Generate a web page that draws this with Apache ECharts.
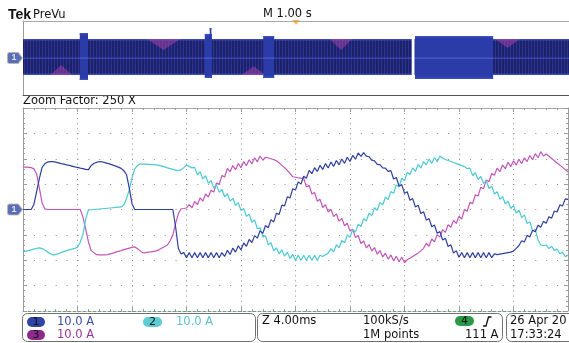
<!DOCTYPE html>
<html>
<head>
<meta charset="utf-8">
<style>
  html, body { margin: 0; padding: 0; background: #fff; }
  #chart { width: 569px; height: 343px; }
</style>
<script src="https://cdn.jsdelivr.net/npm/echarts@6/dist/echarts.min.js"></script>
</head>
<body>
<div id="chart"></div>
<script>
// zoomed record, one value every 0.2 ms, amps (10 A/div, 4 ms/div)
const sampleMs = 0.2
const ch1 = [
  0, 0, 0, 0, 2, 7, 12.2, 16.6, 18, 18.7,
  18.9, 18.9, 18.7, 18.4, 18.1, 17.9, 17.6, 17.4, 17.1, 16.8,
  16.6, 16.3, 16.1, 15.8, 15.7, 17.3, 18.1, 18.6, 18.9, 18.8,
  18.5, 18.2, 17.9, 17.5, 17.1, 16.7, 16.2, 15.3, 13.7, 8.4,
  2.3, 0, 0, 0, 0, 0, 0, 0, 0, 0,
  0, 0, 0, 0, 0, 0, -6.8, -15.3, -17.5, -17,
  -19, -17, -19, -17, -19, -17, -19, -17, -19, -17,
  -19, -17, -19, -17, -18.5, -16.1, -17.7, -15.2, -16.8, -14.3,
  -15.9, -13.2, -14.5, -11.8, -13.0, -10.3, -11.3, -8.4, -9.4, -6.3,
  -7.2, -4.0, -4.9, -1.5, -1.9, 1.7, 1.4, 5.0, 4.6, 8.2,
  7.7, 10.9, 10.0, 13.1, 12.3, 15.4, 14.1, 16.5, 15.0, 17.4,
  15.8, 18.1, 16.4, 18.7, 17.0, 19.3, 17.6, 19.9, 18.2, 20.6,
  18.9, 21.3, 19.8, 22.3, 20.9, 22.4, 21.0, 20.8, 19.4, 19.2,
  17.8, 17.7, 16.4, 16.3, 15.0, 15.3, 12.0, 12.6, 9.2, 9.8,
  6.4, 7.0, 3.6, 4.3, 1.0, 1.7, -1.6, -0.9, -4.2, -3.5,
  -6.8, -6.1, -9.4, -8.7, -12.0, -11.3, -14.6, -13.9, -17.2, -16.2,
  -18.8, -17, -19, -17, -19, -17, -19, -17, -19, -17,
  -19, -17, -19, -17.5, -17.8, -17.6, -17.4, -17.2, -17.0, -16.8,
  -16.4, -15.3, -14.2, -12.3, -12.8, -10.2, -10.8, -8.2, -8.8, -6.2,
  -7.0, -4.6, -5.4, -2.9, -3.4, -0.6, -1.0, 1.8, 1.4, 4.2,
  4.0
]
const ch2 = [
  -16.7, -16.4, -16.2, -15.9, -15.6, -15.3, -15.1, -15.4, -16.0, -16.7,
  -17.4, -17.9, -17.7, -17.4, -17.0, -16.6, -16.2, -15.9, -15.6, -15.3,
  -14.9, -12.9, -9.9, -3.8, -0.2, -0.1, 0, 0.1, 0.2, 0.3,
  0.4, 0.5, 0.6, 0.7, 0.8, 0.9, 1.0, 1.8, 4.3, 7.8,
  12.4, 16.0, 17.3, 18.0, 17.9, 17.9, 17.8, 17.7, 17.7, 17.6,
  17.4, 17.1, 16.8, 16.4, 16.1, 15.8, 15.5, 15.3, 15.6, 16.5,
  17.5, 17.0, 16.4, 16.6, 13.7, 14.9, 12.1, 13.3, 10.3, 11.4,
  8.5, 9.7, 6.8, 7.9, 5.0, 6.2, 3.3, 4.4, 1.6, 2.7,
  -0.4, 0.4, -2.7, -1.9, -5.0, -4.1, -7.6, -7.2, -10.8, -10.4,
  -13.9, -13.1, -16.3, -15.1, -17.5, -15.9, -18.4, -16.8, -19.3, -17.7,
  -20, -18, -20, -18, -20, -18, -20, -18, -20, -18,
  -18.5, -17.8, -17.2, -15.4, -16.7, -13.9, -15.1, -12.2, -13.1, -10.0,
  -11.0, -7.9, -8.9, -5.8, -6.7, -3.6, -4.5, -1.5, -2.4, 0.7,
  -0.3, 2.8, 1.8, 4.9, 3.9, 7.1, 6.4, 9.7, 9.0, 12.3,
  11.4, 14.6, 13.8, 16.4, 15.0, 17.7, 16.3, 18.9, 17.6, 19.9,
  18.2, 20.5, 18.8, 21.1, 20.2, 19.7, 19.3, 18.9, 18.5, 18.1,
  17.7, 17.3, 16.9, 16.1, 16.3, 13.4, 14.5, 11.8, 13.0, 10.3,
  11.4, 8.3, 9.2, 6.1, 7.0, 4.0, 5.1, 2.2, 3.3, 0.4,
  1.5, -1.4, -0.3, -3.2, -2.1, -5.5, -4.9, -8.4, -7.9, -12.0,
  -14.0, -14.3, -14.0, -15.4, -14.5, -16.2, -15.6, -17.4, -16.8, -18.6,
  -18.0
]
const ch3 = [
  16.8, 16.7, 16.6, 16.5, 16.0, 14.0, 8.5, 2.6, 0.3, 0,
  0, 0, 0, 0, 0, 0, 0, 0, 0, 0,
  0, 0, -2.9, -7.6, -12.7, -16.2, -17.0, -17.8, -17.9, -17.9,
  -17.9, -17.8, -17.5, -17.2, -16.8, -16.5, -16.2, -15.8, -15.5, -15.2,
  -14.9, -14.7, -15.5, -16.3, -17.1, -17.0, -16.8, -16.7, -16.5, -16.3,
  -15.8, -15.2, -14.6, -14.0, -12.3, -10.0, -5.5, -1.7, 0.3, 0.4,
  0.6, 1.9, 0.6, 3.2, 1.9, 4.6, 3.3, 6.1, 4.9, 7.6,
  6.9, 10.4, 9.9, 13.4, 12.8, 16.2, 14.9, 17.3, 15.7, 18.1,
  16.5, 18.9, 17.3, 19.6, 18.0, 20.4, 18.8, 21.1, 19.4, 20.6,
  20.3, 20.0, 19.6, 19.2, 18.3, 17.4, 16.5, 15.4, 14.2, 12.9,
  12.7, 12.5, 12.4, 12.3, 8.9, 9.5, 6.1, 6.7, 3.3, 4.0,
  0.8, 1.9, -1.0, 0.1, -2.8, -1.7, -4.6, -3.5, -6.4, -5.4,
  -8.5, -7.8, -11.0, -10.2, -13.4, -12.4, -15.1, -13.8, -16.4, -15.0,
  -17.6, -16.2, -18.7, -17.2, -19.6, -17.9, -20.2, -18.4, -20.6, -18.8,
  -20.9, -19.8, -19.2, -18.5, -17.8, -17.1, -16.3, -15.3, -13.3, -14.5,
  -11.6, -12.7, -9.9, -10.9, -7.9, -9.0, -6.0, -7.0, -4.3, -5.5,
  -2.6, -3.8, 0.0, -0.7, 2.8, 2.3, 5.8, 5.3, 8.8, 8.2,
  11.6, 10.9, 14.2, 13.5, 16.3, 14.9, 17.5, 16.1, 18.6, 16.9,
  19.2, 17.5, 19.8, 18.1, 20.4, 18.9, 21.3, 19.6, 22.0, 20.4,
  22.8, 21.1, 21.9, 21.0, 20.1, 19.2, 18.3, 17.5, 16.6, 15.7,
  14.8
]

// PreVu (1 s/div) envelope pieces: [start s, end s, high A, low A]
const prevuBand = [[0, 10, 20.5, -18.4]]
const prevuTints = [[2.27, 2.88, 20.5, 8.6], [5.62, 6.03, 20.5, 8.6], [8.65, 9.1, 20.5, 10.8],
  [0.5, 0.9, -18.4, -7.6], [4.0, 4.45, -18.4, -9]]
const prevuBursts = [[1.04, 1.19, 27, -23.8], [3.33, 3.46, 26, -21.6], [3.42, 3.45, 32.4, -21.6],
  [4.40, 4.60, 23.8, -21.6], [7.18, 8.61, 23.8, -22.7]]
const prevuGaps = [[7.12, 7.17, 21, -19]]
const triggerPos = [[5, 40]]
const groundPos = [[0, 0]]

const chart = echarts.init(document.getElementById('chart'))

// vertical stripes of the PreVu band
const stripe = document.createElement('canvas')
stripe.width = 3
stripe.height = 4
const sc = stripe.getContext('2d')
sc.fillStyle = '#1d2169'
sc.fillRect(0, 0, 3, 4)
sc.fillStyle = '#2c3592'
sc.fillRect(0, 0, 1, 4)

function rectItem (fill, edge, center) {
  return function (params, api) {
    const a = api.coord([api.value(0), api.value(2)])
    const b = api.coord([api.value(1), api.value(3)])
    const z = api.coord([api.value(0), 0])[1]
    const w = b[0] - a[0]
    const kids = [{ type: 'rect', shape: { x: a[0], y: a[1], width: w, height: b[1] - a[1] }, style: { fill: fill } }]
    if (edge) {
      kids.push({ type: 'rect', shape: { x: a[0], y: a[1], width: w, height: 1.5 }, style: { fill: edge } })
      kids.push({ type: 'rect', shape: { x: a[0], y: b[1] - 1.5, width: w, height: 1.5 }, style: { fill: edge } })
    }
    if (center) {
      kids.push({ type: 'rect', shape: { x: a[0], y: z - 0.6, width: w, height: 1.3 }, style: { fill: center } })
    }
    return { type: 'group', children: kids }
  }
}

function tintItem (params, api) {
  const a = api.coord([api.value(0), api.value(2)])
  const b = api.coord([api.value(1), api.value(3)])
  return {
    type: 'polygon',
    shape: { points: [[a[0], a[1]], [b[0], a[1]], [(a[0] + b[0]) / 2, b[1]]] },
    style: { fill: 'rgba(190, 70, 180, 0.45)' }
  }
}

const toPoints = arr => arr.map((v, i) => [+(i * sampleMs).toFixed(1), v])

const hidden = { show: false }
const frame = c => ({ show: true, onZero: false, lineStyle: { color: c, width: 1 } })
const tick = { show: true, inside: true, length: 4, lineStyle: { color: '#9a9a9a' } }
const minor = { show: true, splitNumber: 5, length: 2, lineStyle: { color: '#9a9a9a' } }

const font = '11.5px "DejaVu Sans"'
const text = (x, y, s, fill, f) => ({
  type: 'text', x: x, y: y, silent: true,
  style: { text: s, fill: fill || '#111', font: f || font, verticalAlign: 'middle' }
})
const oval = (x, y, w, fill, s) => ({
  type: 'group', children: [
    { type: 'rect', shape: { x: x, y: y, width: w, height: 10, r: 5 }, style: { fill: fill } },
    { type: 'text', x: x + w / 2, y: y + 5.5, style: { text: s, fill: '#111', font: '11px "DejaVu Sans"', align: 'center', verticalAlign: 'middle' } }
  ]
})
const box = (x, w) => ({
  type: 'rect', shape: { x: x, y: 313.5, width: w, height: 28, r: 5 },
  style: { fill: 'none', stroke: '#707070', lineWidth: 1 }
})

const tagSymbol = 'path://M0,2 Q0,0 2,0 L10,0 L14,5 L10,10 L2,10 Q0,10 0,8 Z'
const tag = (xi, yi) => ({
  type: 'scatter', xAxisIndex: xi, yAxisIndex: yi, data: groundPos, z: 10,
  symbol: tagSymbol, symbolSize: [15, 11], symbolOffset: [-8, 0],
  itemStyle: { color: '#3148a6', borderColor: '#b8bca0', borderWidth: 1 },
  label: { show: true, position: 'inside', formatter: '1', color: '#fff', fontSize: 9, fontWeight: 'bold', offset: [-1, 0] }
})

chart.setOption({
  animation: false,
  backgroundColor: '#fff',
  grid: [
    { left: 23, top: 21, width: 546, height: 74 },
    { left: 23, top: 108, width: 545, height: 203 }
  ],
  xAxis: [
    { gridIndex: 0, type: 'value', min: 0, max: 10, position: 'bottom', axisLine: frame('#555'), axisTick: hidden, axisLabel: hidden, splitLine: hidden },
    { gridIndex: 0, type: 'value', min: 0, max: 10, position: 'top', axisLine: frame('#a8a8a8'), axisTick: hidden, axisLabel: hidden, splitLine: hidden },
    {
      gridIndex: 1, type: 'value', min: 0, max: 40, interval: 4, position: 'bottom',
      axisLine: { show: true, onZero: false, lineStyle: { color: '#6f9a84', width: 1, type: [3, 2] } },
      axisTick: tick, minorTick: minor, axisLabel: hidden,
      splitLine: { show: true, lineStyle: { color: '#8a8a8a', width: 1, type: [1, 4.07] } }
    },
    { gridIndex: 1, type: 'value', min: 0, max: 40, interval: 4, position: 'top', axisLine: frame('#a8a8a8'), axisTick: tick, minorTick: minor, axisLabel: hidden, splitLine: hidden }
  ],
  yAxis: [
    { gridIndex: 0, type: 'value', min: -40, max: 40, axisLine: frame('#9a9a9a'), axisTick: hidden, axisLabel: hidden, splitLine: hidden },
    {
      gridIndex: 1, type: 'value', min: -40, max: 40, interval: 10,
      axisLine: frame('#9a9a9a'), axisTick: tick, minorTick: minor, axisLabel: hidden,
      splitLine: { show: true, lineStyle: { color: '#8a8a8a', width: 1, type: [1, 9.9] } }
    },
    { gridIndex: 1, type: 'value', min: -40, max: 40, interval: 10, position: 'right', axisLine: frame('#9a9a9a'), axisTick: tick, minorTick: minor, axisLabel: hidden, splitLine: hidden }
  ],
  series: [
    { type: 'custom', xAxisIndex: 0, yAxisIndex: 0, data: prevuBand, encode: { x: [0, 1], y: [2, 3] }, renderItem: rectItem({ image: stripe, repeat: 'repeat' }, '#3a4ab4', '#3a4cb4'), z: 2 },
    { type: 'custom', xAxisIndex: 0, yAxisIndex: 0, data: prevuTints, encode: { x: [0, 1], y: [2, 3] }, renderItem: tintItem, z: 3 },
    { type: 'custom', xAxisIndex: 0, yAxisIndex: 0, data: prevuBursts, encode: { x: [0, 1], y: [2, 3] }, renderItem: rectItem('#2b3ca8', '#3c50c0', '#4a5ec8'), z: 4 },
    { type: 'custom', xAxisIndex: 0, yAxisIndex: 0, data: prevuGaps, encode: { x: [0, 1], y: [2, 3] }, renderItem: rectItem('#ffffff'), z: 5 },
    {
      type: 'scatter', xAxisIndex: 0, yAxisIndex: 0, data: triggerPos, z: 10,
      symbol: 'triangle', symbolRotate: 180, symbolSize: [7, 5], symbolOffset: [0, 1.5],
      itemStyle: { color: '#f0a030' }
    },
    tag(0, 0),
    tag(2, 1),
    { type: 'line', xAxisIndex: 2, yAxisIndex: 1, data: toPoints(ch3), symbol: 'none', lineStyle: { color: '#c255ba', width: 1.2 }, z: 3 },
    { type: 'line', xAxisIndex: 2, yAxisIndex: 1, data: toPoints(ch2), symbol: 'none', lineStyle: { color: '#4cc9d2', width: 1.2 }, z: 4 },
    { type: 'line', xAxisIndex: 2, yAxisIndex: 1, data: toPoints(ch1), symbol: 'none', lineStyle: { color: '#2f3f9f', width: 1.2 }, z: 5 }
  ],
  graphic: [
    text(8, 15, 'Tek', '#111', 'bold 14px "Liberation Sans"'),
    text(33, 15, 'PreVu'),
    text(263, 14, 'M 1.00 s'),
    text(23, 101, 'Zoom Factor: 250 X'),
    box(22.5, 233),
    box(257.5, 245),
    box(506.5, 80),
    oval(27, 317, 18, '#2f44a4', '1'),
    text(57, 322, '10.0 A', '#3a4cb0'),
    oval(143, 317, 19, '#5ccdd5', '2'),
    text(176, 322, '10.0 A', '#56c6d0'),
    oval(27, 330, 18, '#8e2a8e', '3'),
    text(57, 335, '10.0 A', '#9a3496'),
    text(262, 321, 'Z 4.00ms'),
    text(363, 321, '100kS/s'),
    text(363, 335, '1M points'),
    oval(455, 316, 19, '#2a9a48', '4'),
    { type: 'polyline', shape: { points: [[483, 326], [486, 326], [488.5, 317], [491.5, 317]] }, style: { stroke: '#111', lineWidth: 1.3, fill: 'none' } },
    text(465, 335, '111 A'),
    text(510, 321, '26 Apr 20'),
    text(510, 335, '17:33:24')
  ]
})
</script>
</body>
</html>
